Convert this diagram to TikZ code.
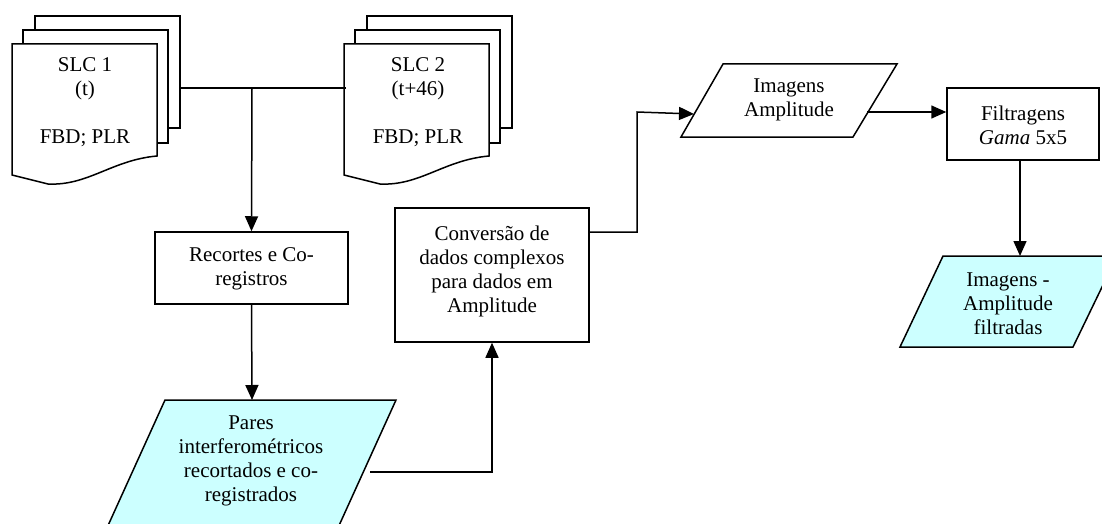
\documentclass[tikz,border=0pt]{standalone}
\usepackage{fontspec}
\setmainfont{Liberation Serif}
\usetikzlibrary{arrows.meta}
\definecolor{lcyan}{RGB}{204,255,255}
\tikzset{
  x=1pt, y=-1pt,
  ln/.style={line width=1.5pt, line join=miter},
  arr/.style={ln, -{Triangle[width=13pt,length=15pt]}},
  txt/.style={inner sep=0pt, align=center, font=\fontsize{21}{24}\selectfont},
  boxr/.style={ln, draw, fill=white, inner sep=0pt},
}
\newcommand{\mdoc}[1]{%
  \begin{scope}[shift={(#1,0)}]
    \draw[ln, fill=white] (35,30) -- (35,16) -- (180,16) -- (180,128) -- (168,128);
    \draw[ln, fill=white] (23,44) -- (23,30) -- (168,30) -- (168,143) -- (157,143);
    \draw[ln, fill=white] (12,44) -- (157,44) -- (157,156)
      .. controls (112,160) and (88,186) .. (48,184) -- (12,175) -- cycle;
  \end{scope}}
\begin{document}
\begin{tikzpicture}
\useasboundingbox (0,0) rectangle (1102,524);
\clip (0,0) rectangle (1102,524);
% documents
\mdoc{0}
\mdoc{332}
\node[txt] (slc1) at (85,102) {SLC 1\\(t)\\\mbox{}\\FBD; PLR};
\node[txt] (slc2) at (418,102) {SLC 2\\(t+46)\\\mbox{}\\FBD; PLR};
\coordinate (j1) at (180,88);
\coordinate (j2) at (346,88);
\coordinate (jt) at (252,88);
% Recortes
\node[boxr, minimum width=193pt, minimum height=72pt] (rec) at (251.5,268) {};
\node[txt] (rect) at (251.5,268.5) {Recortes e Co-\\registros};
% Pares
\draw[ln, fill=lcyan] (165,400) -- (396,400) -- (337,530) -- (106,530) -- cycle;
\coordinate (paresTop) at (252,400);
\node[txt] (pares) at (251,461) {Pares\\interferométricos\\recortados e co-\\registrados};
\coordinate (pr) at (370,472);
% Conversao
\node[boxr, minimum width=194pt, minimum height=134pt] (conv) at (492,275) {};
\node[txt] (convt) at (492,271) {Conversão de\\dados complexos\\para dados em\\Amplitude};
\coordinate (c1) at (589,232);
\coordinate (c2) at (637,232);
\coordinate (c3) at (637,112);
% Imagens Amplitude
\draw[ln, fill=white] (723,64) -- (897,64) -- (853,137) -- (681,137) -- cycle;
\node[txt] (ia) at (789,100) {Imagens\\Amplitude};
\coordinate (iaL) at (694,114);
\coordinate (iaR) at (867,112);
% Filtragens
\node[boxr, minimum width=152pt, minimum height=72pt] (filt) at (1023,124) {};
\node[txt] (filtt) at (1023,125) {Filtragens\\\textit{Gama} 5x5};
% Imagens filtradas
\draw[ln, fill=lcyan] (943,256) -- (1117,256) -- (1073,347) -- (900,347) -- cycle;
\coordinate (ifTop) at (1020,256);
\node[txt] (ift) at (1008,304) {Imagens -\\Amplitude\\filtradas};
% connectors
\draw[ln] (j1) -- (j2);
\draw[arr] (jt) -- (rec.north);
\draw[arr] (rec.south) -- (paresTop);
\draw[arr] (pr) -| (conv.south);
\draw[arr] (c1) -- (c2) -- (c3) -- (iaL);
\draw[arr] (iaR) -- (filt.west |- iaR);
\draw[arr] (filt.south -| ifTop) -- (ifTop);
\end{tikzpicture}
\end{document}
